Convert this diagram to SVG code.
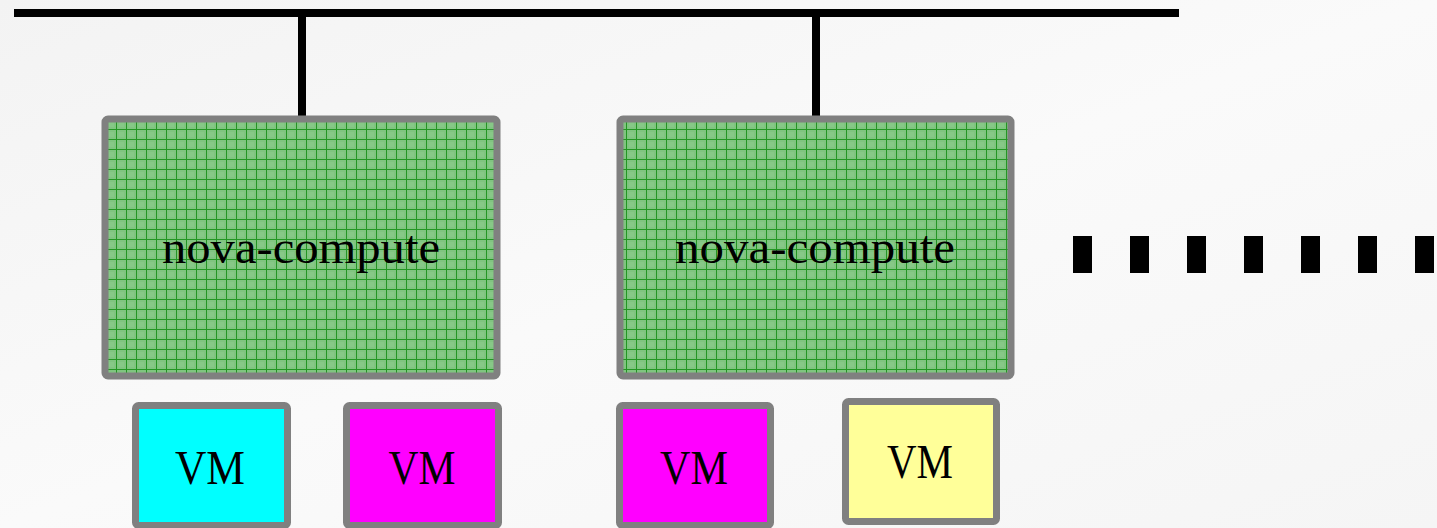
<svg xmlns="http://www.w3.org/2000/svg" width="1437" height="528" viewBox="0 0 1437 528">
  <defs>
    <linearGradient id="bg" x1="0" y1="0" x2="1" y2="1">
      <stop offset="0" stop-color="#f3f3f3"/>
      <stop offset="0.5" stop-color="#fafafa"/>
      <stop offset="1" stop-color="#f5f5f5"/>
    </linearGradient>
    <pattern id="grid" patternUnits="userSpaceOnUse" x="6" y="9" width="10" height="10">
      <rect width="10" height="10" fill="#80c480"/>
      <rect x="3" y="3" width="5" height="5" fill="#8ccc8c" opacity="0.6"/>
      <path d="M0.5 0V10M0 0.5H10" stroke="#239623" stroke-width="1" fill="none"/>
    </pattern>
    <style>
      .host { fill: url(#grid); stroke: #808080; stroke-width: 7; }
      .vm { stroke: #808080; stroke-width: 7; }
      .bus { stroke: #000; stroke-width: 8; fill: none; }
      .lbl { font-family: "Liberation Serif", "DejaVu Serif", serif; fill: #000; text-anchor: middle; }
      .dash { fill: #000; }
    </style>
  </defs>
  <rect width="1437" height="528" fill="url(#bg)"/>

  <g id="connectors">
    <line class="bus" x1="14" y1="13" x2="1179" y2="13"/>
    <line class="bus" x1="302" y1="13" x2="302" y2="118"/>
    <line class="bus" x1="816" y1="13" x2="816" y2="118"/>
  </g>

  <g id="host1">
    <rect class="host" x="105" y="119" width="392" height="257" rx="3"/>
    <text class="lbl" x="301" y="263" font-size="47" textLength="278" lengthAdjust="spacingAndGlyphs">nova-compute</text>
  </g>
  <g id="host2">
    <rect class="host" x="620" y="119" width="391" height="257" rx="3"/>
    <text class="lbl" x="815" y="263" font-size="47" textLength="280" lengthAdjust="spacingAndGlyphs">nova-compute</text>
  </g>

  <g id="more">
    <rect class="dash" x="1073" y="236" width="19" height="37"/>
    <rect class="dash" x="1130" y="236" width="19" height="37"/>
    <rect class="dash" x="1187" y="236" width="19" height="37"/>
    <rect class="dash" x="1244" y="236" width="19" height="37"/>
    <rect class="dash" x="1301" y="236" width="19" height="37"/>
    <rect class="dash" x="1358" y="236" width="19" height="37"/>
    <rect class="dash" x="1415" y="236" width="19" height="37"/>
  </g>

  <g id="vm1">
    <rect class="vm" x="135.5" y="405.5" width="152" height="120" rx="3" fill="#00ffff"/>
    <text class="lbl" x="210" y="484" font-size="49" textLength="70" lengthAdjust="spacingAndGlyphs">VM</text>
  </g>
  <g id="vm2">
    <rect class="vm" x="346.5" y="405.5" width="152" height="120" rx="3" fill="#ff00ff"/>
    <text class="lbl" x="422" y="484" font-size="49" textLength="67" lengthAdjust="spacingAndGlyphs">VM</text>
  </g>
  <g id="vm3">
    <rect class="vm" x="619.5" y="405.5" width="151" height="120" rx="3" fill="#ff00ff"/>
    <text class="lbl" x="694" y="484" font-size="49" textLength="68" lengthAdjust="spacingAndGlyphs">VM</text>
  </g>
  <g id="vm4">
    <rect class="vm" x="845.5" y="401.5" width="151" height="120" rx="3" fill="#ffff99"/>
    <text class="lbl" x="920" y="478" font-size="49" textLength="66" lengthAdjust="spacingAndGlyphs">VM</text>
  </g>
</svg>
